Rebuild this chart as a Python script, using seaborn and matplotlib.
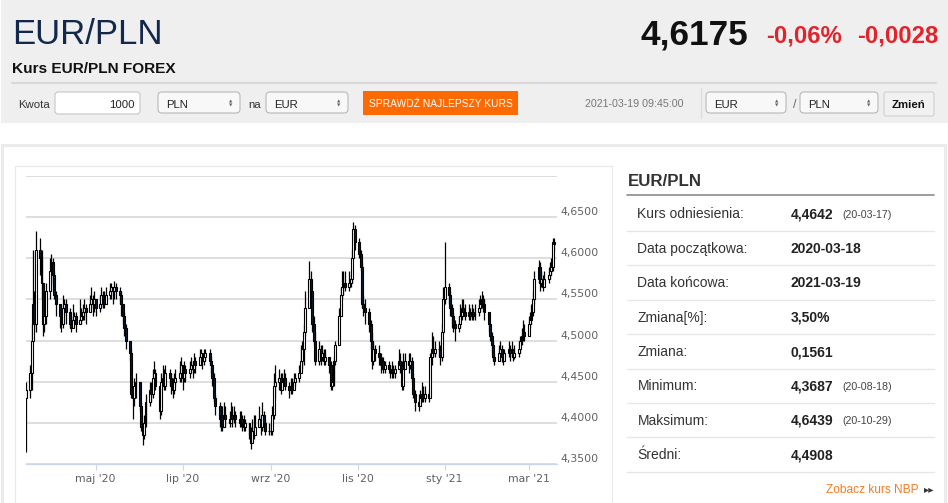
import matplotlib
matplotlib.use('Agg')
import matplotlib.dates as mdates
import matplotlib.pyplot as plt
import numpy as np
import pandas as pd
import seaborn as sns
from matplotlib import font_manager
from matplotlib.patches import FancyBboxPatch, Rectangle
from matplotlib.ticker import FuncFormatter

FIRST_DAY = '2020-03-13'
LAST_DAY = '2021-03-19'
FIRST_OPEN = 4.43

# daily candles, one line per week (Mon..Fri), first value is Fri 2020-03-13
CLOSE = [4.44,
         4.46, 4.50, 4.545, 4.52, 4.61,
         4.60, 4.57, 4.52, 4.53, 4.56,
         4.585, 4.595, 4.58, 4.555, 4.545,
         4.53, 4.52, 4.54, 4.545, 4.535,
         4.52, 4.515, 4.525, 4.53, 4.52,
         4.525, 4.53, 4.535, 4.54, 4.535,
         4.545, 4.55, 4.545, 4.55, 4.54,
         4.545, 4.555, 4.55, 4.545, 4.555,
         4.56, 4.565, 4.56, 4.565, 4.56,
         4.555, 4.545, 4.53, 4.515, 4.50,
         4.485, 4.435, 4.43, 4.445, 4.45,
         4.42, 4.395, 4.385, 4.40, 4.425,
         4.44, 4.435, 4.455, 4.46, 4.445,
         4.415, 4.45, 4.455, 4.445, 4.46,
         4.455, 4.445, 4.44, 4.45, 4.455,
         4.46, 4.47, 4.455, 4.465, 4.46,
         4.465, 4.47, 4.465, 4.475, 4.47,
         4.48, 4.485, 4.475, 4.48, 4.485,
         4.475, 4.47, 4.455, 4.43, 4.42,
         4.405, 4.41, 4.395, 4.41, 4.405,
         4.40, 4.41, 4.405, 4.41, 4.405,
         4.40, 4.405, 4.40, 4.395, 4.40,
         4.385, 4.375, 4.39, 4.385, 4.395,
         4.405, 4.395, 4.41, 4.40, 4.39,
         4.39, 4.39, 4.41, 4.445, 4.45,
         4.455, 4.44, 4.45, 4.455, 4.445,
         4.44, 4.445, 4.44, 4.45, 4.455,
         4.46, 4.475, 4.49, 4.51, 4.54,
         4.575, 4.56, 4.52, 4.50, 4.475,
         4.49, 4.48, 4.485, 4.475, 4.48,
         4.47, 4.445, 4.45, 4.475, 4.495,
         4.53, 4.555, 4.565, 4.57, 4.565,
         4.57, 4.575, 4.60, 4.635, 4.62,
         4.605, 4.59, 4.545, 4.54, 4.535,
         4.52, 4.50, 4.475, 4.49, 4.485,
         4.48, 4.47, 4.475, 4.465, 4.47,
         4.465, 4.46, 4.465, 4.46, 4.465,
         4.475, 4.47, 4.445, 4.465, 4.475,
         4.47, 4.475, 4.455, 4.435, 4.425,
         4.42, 4.43, 4.435, 4.43, 4.435,
         4.43, 4.48, 4.49, 4.485, 4.49,
         4.49, 4.48, 4.51, 4.55, 4.565,
         4.555, 4.54, 4.53, 4.52, 4.515,
         4.52, 4.53, 4.54, 4.535, 4.53,
         4.535, 4.53, 4.535, 4.53, 4.535,
         4.54, 4.545, 4.55, 4.545, 4.535,
         4.52, 4.505, 4.495, 4.48, 4.475,
         4.485, 4.49, 4.48, 4.475, 4.485,
         4.49, 4.485, 4.49, 4.48, 4.485,
         4.49, 4.50, 4.505, 4.51, 4.505,
         4.52, 4.525, 4.535, 4.55, 4.575,
         4.59, 4.57, 4.575, 4.565, 4.575,
         4.58, 4.585, 4.59, 4.62, 4.6175]

HIGH = [4.45,
        4.47, 4.52, 4.61, 4.56, 4.633,
        4.625, 4.61, 4.57, 4.55, 4.57,
        4.60, 4.605, 4.60, 4.585, 4.56,
        4.545, 4.535, 4.555, 4.55, 4.55,
        4.54, 4.53, 4.545, 4.535, 4.535,
        4.55, 4.54, 4.545, 4.55, 4.545,
        4.555, 4.565, 4.555, 4.56, 4.55,
        4.555, 4.565, 4.56, 4.56, 4.565,
        4.57, 4.57, 4.565, 4.572, 4.57,
        4.565, 4.56, 4.545, 4.535, 4.52,
        4.50, 4.49, 4.445, 4.455, 4.46,
        4.45, 4.425, 4.40, 4.41, 4.435,
        4.45, 4.45, 4.465, 4.475, 4.465,
        4.445, 4.46, 4.47, 4.465, 4.47,
        4.465, 4.46, 4.455, 4.46, 4.465,
        4.475, 4.48, 4.47, 4.475, 4.47,
        4.475, 4.48, 4.475, 4.485, 4.48,
        4.49, 4.49, 4.485, 4.49, 4.49,
        4.49, 4.48, 4.47, 4.46, 4.435,
        4.425, 4.42, 4.42, 4.425, 4.42,
        4.415, 4.425, 4.42, 4.42, 4.415,
        4.415, 4.415, 4.41, 4.41, 4.405,
        4.40, 4.395, 4.405, 4.41, 4.41,
        4.42, 4.41, 4.425, 4.415, 4.405,
        4.40, 4.40, 4.42, 4.46, 4.47,
        4.465, 4.46, 4.46, 4.465, 4.46,
        4.45, 4.455, 4.455, 4.46, 4.46,
        4.47, 4.495, 4.50, 4.52, 4.56,
        4.597, 4.585, 4.56, 4.53, 4.51,
        4.50, 4.495, 4.495, 4.49, 4.49,
        4.48, 4.475, 4.46, 4.48, 4.50,
        4.54, 4.565, 4.585, 4.585, 4.585,
        4.585, 4.58, 4.61, 4.6439, 4.64,
        4.625, 4.61, 4.595, 4.555, 4.55,
        4.54, 4.525, 4.51, 4.50, 4.495,
        4.495, 4.485, 4.48, 4.48, 4.475,
        4.475, 4.47, 4.475, 4.47, 4.47,
        4.49, 4.485, 4.475, 4.485, 4.485,
        4.485, 4.485, 4.48, 4.46, 4.44,
        4.435, 4.44, 4.45, 4.445, 4.445,
        4.44, 4.485, 4.51, 4.505, 4.50,
        4.50, 4.495, 4.52, 4.565, 4.62,
        4.57, 4.56, 4.545, 4.535, 4.525,
        4.53, 4.545, 4.55, 4.55, 4.545,
        4.545, 4.54, 4.545, 4.54, 4.545,
        4.55, 4.555, 4.56, 4.555, 4.55,
        4.535, 4.52, 4.51, 4.50, 4.485,
        4.495, 4.50, 4.495, 4.485, 4.49,
        4.50, 4.495, 4.50, 4.49, 4.495,
        4.50, 4.505, 4.515, 4.525, 4.52,
        4.53, 4.535, 4.545, 4.56, 4.585,
        4.598, 4.595, 4.585, 4.58, 4.585,
        4.59, 4.595, 4.60, 4.625, 4.625]

LOW = [4.365,
       4.43, 4.44, 4.50, 4.51, 4.51,
       4.58, 4.55, 4.505, 4.51, 4.52,
       4.55, 4.57, 4.56, 4.55, 4.53,
       4.515, 4.51, 4.515, 4.53, 4.52,
       4.515, 4.51, 4.515, 4.52, 4.51,
       4.52, 4.52, 4.525, 4.525, 4.52,
       4.535, 4.54, 4.53, 4.535, 4.53,
       4.535, 4.54, 4.54, 4.54, 4.545,
       4.55, 4.55, 4.545, 4.55, 4.55,
       4.545, 4.53, 4.52, 4.505, 4.49,
       4.475, 4.43, 4.405, 4.42, 4.43,
       4.415, 4.39, 4.373, 4.38, 4.395,
       4.42, 4.425, 4.43, 4.445, 4.44,
       4.405, 4.41, 4.445, 4.44, 4.44,
       4.445, 4.435, 4.43, 4.435, 4.445,
       4.45, 4.45, 4.44, 4.45, 4.45,
       4.455, 4.46, 4.455, 4.46, 4.46,
       4.47, 4.47, 4.465, 4.47, 4.475,
       4.47, 4.46, 4.445, 4.425, 4.41,
       4.395, 4.39, 4.39, 4.40, 4.395,
       4.395, 4.40, 4.395, 4.40, 4.395,
       4.395, 4.395, 4.39, 4.39, 4.39,
       4.38, 4.3687, 4.375, 4.38, 4.385,
       4.395, 4.385, 4.39, 4.39, 4.385,
       4.385, 4.385, 4.385, 4.405, 4.43,
       4.44, 4.435, 4.44, 4.445, 4.44,
       4.43, 4.435, 4.435, 4.44, 4.445,
       4.45, 4.46, 4.465, 4.47, 4.505,
       4.54, 4.545, 4.51, 4.495, 4.47,
       4.47, 4.47, 4.475, 4.47, 4.47,
       4.46, 4.44, 4.44, 4.445, 4.47,
       4.495, 4.53, 4.55, 4.555, 4.56,
       4.56, 4.565, 4.57, 4.60, 4.61,
       4.60, 4.585, 4.54, 4.53, 4.52,
       4.51, 4.49, 4.465, 4.47, 4.475,
       4.47, 4.46, 4.465, 4.46, 4.46,
       4.46, 4.455, 4.455, 4.455, 4.455,
       4.465, 4.46, 4.44, 4.44, 4.465,
       4.46, 4.465, 4.45, 4.43, 4.415,
       4.414, 4.42, 4.425, 4.425, 4.425,
       4.425, 4.43, 4.47, 4.48, 4.48,
       4.48, 4.47, 4.475, 4.51, 4.545,
       4.545, 4.53, 4.515, 4.51, 4.50,
       4.51, 4.515, 4.525, 4.53, 4.525,
       4.525, 4.525, 4.525, 4.525, 4.525,
       4.53, 4.535, 4.54, 4.535, 4.525,
       4.51, 4.50, 4.485, 4.475, 4.47,
       4.475, 4.48, 4.474, 4.47, 4.475,
       4.48, 4.475, 4.48, 4.475, 4.478,
       4.48, 4.485, 4.495, 4.50, 4.50,
       4.505, 4.515, 4.52, 4.53, 4.545,
       4.57, 4.56, 4.565, 4.56, 4.565,
       4.57, 4.575, 4.58, 4.585, 4.61]

Y_TICKS = [4.35, 4.40, 4.45, 4.50, 4.55, 4.60, 4.65, 4.70]
MONTH_TICKS = ['2020-05-01', '2020-07-01', '2020-09-01', '2020-11-01', '2021-01-01', '2021-03-01']
MONTH_LABELS = ["maj '20", "lip '20", "wrz '20", "lis '20", "sty '21", "mar '21"]

STAT_LABELS = ['Kurs odniesienia:', 'Data początkowa:', 'Data końcowa:', 'Zmiana[%]:',
               'Zmiana:', 'Minimum:', 'Maksimum:', 'Średni:']
STAT_VALUES = ['4,4642', '2020-03-18', '2021-03-19', '3,50%', '0,1561', '4,3687', '4,6439', '4,4908']
STAT_DATES = ['(20-03-17)', '', '', '', '', '(20-08-18)', '(20-10-29)', '']

sns.set_theme(style='white')

try:
    font_manager.findfont('Liberation Sans Narrow', fallback_to_default=False)
    NARROW = 'Liberation Sans Narrow'
    NS = 1.0
except ValueError:
    NARROW = 'Liberation Sans'
    NS = 0.82
plt.rcParams['font.family'] = ['Liberation Sans', 'DejaVu Sans']

W, H = 948, 503
fig = plt.figure(figsize=(W / 100, H / 100), dpi=100)
fig.patch.set_facecolor('white')

# page layer in pixel coordinates
page = fig.add_axes([0, 0, 1, 1], zorder=0)
page.set_xlim(0, W)
page.set_ylim(H, 0)
page.axis('off')


def box(x0, y0, x1, y1, fc, ec='none', r=0, lw=1.0):
    if r:
        p = FancyBboxPatch((x0, y0), x1 - x0, y1 - y0, boxstyle=f'round,pad=0,rounding_size={r}',
                           fc=fc, ec=ec, lw=lw)
    else:
        p = Rectangle((x0, y0), x1 - x0, y1 - y0, fc=fc, ec=ec, lw=lw)
    page.add_patch(p)


def txt(x, y, s, size, color='#333333', family=None, weight='normal', ha='left'):
    page.text(x, y, s, fontsize=size, color=color, family=family or ['Liberation Sans', 'DejaVu Sans'],
              fontweight=weight, ha=ha, va='baseline')


def select(x0, x1, label):
    box(x0, 92, x1, 113, '#f8f8f8', '#b9b9b9', r=4, lw=0.8)
    txt(x0 + 8, 107.5, label, 10 * NS, '#222222', NARROW)
    page.text(x1 - 9, 101.5, '▲', fontsize=3.2, color='#666666', ha='center', va='center', family='DejaVu Sans')
    page.text(x1 - 9, 105.5, '▼', fontsize=3.2, color='#666666', ha='center', va='center', family='DejaVu Sans')


# header
box(1, 0, W, 123, '#efefef')
txt(12, 44, 'EUR/PLN', 30.5 * NS, '#13284a', NARROW)
txt(748, 44, '4,6175', 31 * NS, '#111111', NARROW, 'bold', ha='right')
txt(842, 42, '-0,06%', 21 * NS, '#e3232a', NARROW, 'bold', ha='right')
txt(938, 42, '-0,0028', 21 * NS, '#e3232a', NARROW, 'bold', ha='right')
txt(12, 73, 'Kurs EUR/PLN FOREX', 13.5 * NS, '#111111', NARROW, 'bold')
page.plot([12, 936], [83, 83], color='#d9d9d9', lw=1.5)

txt(18, 107.5, 'Kwota', 10 * NS, '#333333', NARROW)
box(55, 92, 140, 114, 'white', '#c6c6c6', r=3, lw=0.8)
txt(135, 107.5, '1000', 10 * NS, '#222222', NARROW, ha='right')
select(158, 240, 'PLN')
txt(248, 107.5, 'na', 10 * NS, '#333333', NARROW)
select(266, 348, 'EUR')
box(363, 91, 518, 115, '#ff6a00')
txt(440.5, 107, 'SPRAWDŹ NAJLEPSZY KURS', 9 * NS, 'white', NARROW, ha='center')
txt(585, 107, '2021-03-19 09:45:00', 9.3 * NS, '#777777', NARROW)
page.plot([701, 701], [88, 118], color='#dddddd', lw=1)
select(706, 786, 'EUR')
txt(793, 108, '/', 11 * NS, '#666666', NARROW)
select(800, 878, 'PLN')
box(884, 92, 934, 116, '#f1f1f1', '#d0d0d0', r=2, lw=0.8)
txt(909, 108, 'Zmień', 10 * NS, '#111111', NARROW, 'bold', ha='center')

# content panel and chart frame
box(2.5, 144.5, 945, H + 5, 'white', '#ebebeb', lw=2.2)
box(15, 166, 612, H + 5, 'white', '#e9e9e9', lw=0.8)

# statistics table
txt(628, 186, 'EUR/PLN', 12.2, '#333333', weight='bold')
page.plot([627, 934], [195, 195], color='#8c8c8c', lw=1.2)
row_y = 213.5
for label, value, date in zip(STAT_LABELS, STAT_VALUES, STAT_DATES):
    txt(637.5, row_y + 5, label, 10, '#333333')
    txt(790.5, row_y + 5, value, 10, '#222222', weight='bold')
    if date:
        txt(842, row_y + 4.5, date, 7.7, '#444444')
    page.plot([627, 934], [row_y + 17.5, row_y + 17.5], color='#e6e6e6', lw=1)
    row_y += 34.4
txt(919, 493, 'Zobacz kurs NBP', 8.6, '#f47a20', ha='right')
page.text(929.5, 489.5, '▸▸', fontsize=7.5, color='#333333', ha='center', va='center', family='DejaVu Sans')

# candlestick chart
days = pd.bdate_range(FIRST_DAY, LAST_DAY)
df = pd.DataFrame({'day': days, 'close': CLOSE, 'high': HIGH, 'low': LOW})
df['open'] = [FIRST_OPEN] + CLOSE[:-1]
df['up'] = df['close'] >= df['open']
df['bottom'] = df[['open', 'close']].min(axis=1)
df['body'] = (df['close'] - df['open']).abs()

ax = fig.add_axes([26 / W, 1 - 464 / H, (556.7 - 26) / W, (464 - 176) / H], zorder=2)
ax.patch.set_alpha(0)
ax.vlines(df['day'], df['low'], df['high'], color='black', lw=0.9, zorder=3)
ax.bar(df['day'], df['body'], bottom=df['bottom'], width=1.35,
       color=np.where(df['up'], 'white', '#0c1a2e'), edgecolor='black', linewidth=0.8, zorder=4)

may1 = mdates.date2num(pd.Timestamp('2020-05-01'))
ax.set_xlim(may1 - 48.9, may1 + 323.7)
ax.set_ylim(Y_TICKS[0], Y_TICKS[-1])
ax.set_yticks(Y_TICKS)
ax.yaxis.set_major_formatter(FuncFormatter(
    lambda v, _: '' if v > 4.675 else f'{v:.4f}'.replace('.', ',')))
ax.yaxis.tick_right()
ax.tick_params(axis='y', length=0, pad=2.5, labelsize=7.8, labelcolor='#606060')
for lab in ax.get_yticklabels():
    lab.set_verticalalignment('bottom')
    lab.set_family('DejaVu Sans')
ax.grid(axis='y', color='#dedede', lw=1.4, zorder=0)
ax.set_axisbelow(True)

ax.set_xticks(pd.to_datetime(MONTH_TICKS))
ax.set_xticklabels(MONTH_LABELS, family='DejaVu Sans')
ax.tick_params(axis='x', length=4.5, width=0.8, color='#ccd6eb', pad=2.5, labelsize=7.8,
               labelcolor='#606060', bottom=True)
sns.despine(ax=ax, left=True, right=True, top=True)
ax.spines['bottom'].set_color('#ccd6eb')
ax.spines['bottom'].set_linewidth(0.9)
ax.set_xlabel('')
ax.set_ylabel('')

fig.savefig('out.png', dpi=100)
